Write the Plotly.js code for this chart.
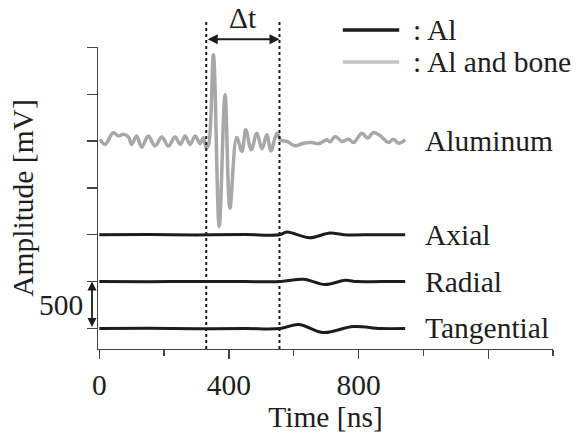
<!DOCTYPE html>
<html>
<head>
<meta charset="utf-8">
<script src="https://cdn.plot.ly/plotly-3.0.1.min.js"></script>
<style>html,body{margin:0;padding:0;background:#fff;}#chart{width:578px;height:433px;}</style>
</head>
<body>
<div id="chart"></div>
<script>
// ---- data (time in ns, amplitude in mV relative to each trace's own baseline) ----
const grayT = [2,18,43,59,74,90,100,115,131,151,172,193,213,234,250,265,280,296,311,321,330,
  337,352,370,388,403,424,440,452,469,486,502,517,530,548,560,
  579,604,630,656,676,702,712,728,749,769,785,810,828,846,867,892,908,923,944];
const grayV = [18,-36,89,53,71,43,-36,53,-64,53,-53,43,-53,43,-36,53,-36,53,-28,36,-71,
  -41,921,-913,493,-717,38,-112,120,-94,84,-83,66,-105,84,10,
  -5,-51,-23,-16,-30,13,-9,48,-5,20,-16,84,31,91,56,-16,20,-23,13];

const axialT = [0,150,300,450,556,579,649,712,754,850,944];
const axialV = [0,2,-2,2,0,28,-32,18,0,0,0];

const radialT = [0,150,300,450,560,630,697,759,795,870,944];
const radialV = [0,-2,2,0,0,25,-32,14,0,0,0];

const tangT = [0,150,300,450,558,615,692,784,867,944];
const tangV = [0,2,-2,0,0,43,-43,21,0,0];

const rowLabels = ["Aluminum","Axial","Radial","Tangential"];
const rowOffsets = [2000,1000,500,0];
const legendLabels = [": Al", ": Al and bone"];
const dtMarks = [330, 556];      // dotted lines (ns)
const scaleBar = 500;            // mV
const xTickVals = [0,400,800,1200];
const xTickText = ["0","400","800",""];

// ---- styling ----
const FONT = "Liberation Serif, Times New Roman, serif";
const FS = 29.5;
const BLACK = "#1c1c1c", GRAY = "#a8a8a8", LGRAY = "#c4c4c4", TXT = "#1e1e1e";

function shifted(v, off){ return v.map(a => a + off); }

const traces = [
  {x: grayT, y: shifted(grayV, rowOffsets[0]), name: "Al and bone", mode: "lines",
   line: {color: GRAY, width: 3.5, shape: "spline", smoothing: 1}},
  {x: axialT, y: shifted(axialV, rowOffsets[1]), name: "Al (Axial)", mode: "lines",
   line: {color: BLACK, width: 3, shape: "spline", smoothing: 1}},
  {x: radialT, y: shifted(radialV, rowOffsets[2]), name: "Al (Radial)", mode: "lines",
   line: {color: BLACK, width: 3, shape: "spline", smoothing: 1}},
  {x: tangT, y: shifted(tangV, rowOffsets[3]), name: "Al (Tangential)", mode: "lines",
   line: {color: BLACK, width: 3, shape: "spline", smoothing: 1}}
];

const annotations = [];
rowLabels.forEach((lab, i) => {
  annotations.push({x: 1000, y: rowOffsets[i], xref: "x", yref: "y", text: lab,
    showarrow: false, xanchor: "left", yanchor: "middle",
    font: {family: FONT, size: FS, color: TXT}});
});
// legend texts
annotations.push({x: 0.688, y: 1.056, xref: "paper", yref: "paper", text: legendLabels[0],
  showarrow: false, xanchor: "left", yanchor: "middle", font: {family: FONT, size: FS, color: TXT}});
annotations.push({x: 0.688, y: 0.950, xref: "paper", yref: "paper", text: legendLabels[1],
  showarrow: false, xanchor: "left", yanchor: "middle", font: {family: FONT, size: FS, color: TXT}});
// Δt
annotations.push({x: (dtMarks[0]+dtMarks[1])/2, y: 1.095, xref: "x", yref: "paper", text: "Δt",
  showarrow: false, xanchor: "center", yanchor: "middle", font: {family: FONT, size: FS, color: TXT}});
annotations.push({x: dtMarks[1], y: 1.026, xref: "x", yref: "paper", ax: dtMarks[0], ay: 0,
  axref: "x", ayref: "pixel", text: "", showarrow: true, arrowhead: 2, arrowside: "end+start",
  arrowsize: 1, arrowwidth: 2, arrowcolor: BLACK, standoff: 0, startstandoff: 0});
// scale bar
annotations.push({x: -0.0132, y: scaleBar, xref: "paper", yref: "y", ax: 0, ay: 0,
  axref: "pixel", ayref: "y", text: "", showarrow: true, arrowhead: 2, arrowside: "end+start",
  arrowsize: 1, arrowwidth: 1.8, arrowcolor: BLACK, standoff: 0, startstandoff: 0});
annotations.push({x: -0.0286, y: scaleBar/2, xref: "paper", yref: "y", text: String(scaleBar),
  showarrow: false, xanchor: "right", yanchor: "middle", font: {family: FONT, size: FS, color: TXT}});

const shapes = [];
dtMarks.forEach(t => shapes.push({type: "line", xref: "x", yref: "paper", x0: t, x1: t, y0: 0, y1: 1.089,
  line: {color: BLACK, width: 2, dash: "dot"}}));
shapes.push({type: "line", xref: "paper", yref: "paper", x0: 0.538, x1: 0.662, y0: 1.056, y1: 1.056,
  line: {color: BLACK, width: 3.5}});
shapes.push({type: "line", xref: "paper", yref: "paper", x0: 0.538, x1: 0.662, y0: 0.950, y1: 0.950,
  line: {color: LGRAY, width: 3.5}});

const layout = {
  width: 578, height: 433,
  margin: {l: 98, r: 25, t: 47, b: 84},
  paper_bgcolor: "#fff", plot_bgcolor: "#fff",
  showlegend: false,
  font: {family: FONT, size: FS, color: TXT},
  xaxis: {
    range: [-4, 1400], showgrid: false, zeroline: false,
    showline: true, linecolor: "#444", linewidth: 1.3,
    tickmode: "array", tickvals: xTickVals, ticktext: xTickText,
    ticks: "outside", ticklen: 9, tickwidth: 1.3, tickcolor: "#444",
    minor: {tickmode: "linear", tick0: 0, dtick: 200, ticks: "outside", ticklen: 6, tickwidth: 1.3, tickcolor: "#444"},
    tickfont: {family: FONT, size: FS, color: TXT},
    title: {text: "Time [ns]", font: {family: FONT, size: FS, color: TXT}, standoff: 23}
  },
  yaxis: {
    range: [-219, 3003], showgrid: false, zeroline: false,
    showline: true, linecolor: "#444", linewidth: 1.3,
    tickmode: "linear", tick0: 0, dtick: 500,
    ticks: "outside", ticklen: 10, tickwidth: 1.3, tickcolor: "#444",
    showticklabels: false,
    title: {text: "Amplitude [mV]", font: {family: FONT, size: FS, color: TXT}, standoff: 44}
  },
  annotations: annotations,
  shapes: shapes
};

Plotly.newPlot("chart", traces, layout, {staticPlot: true, displayModeBar: false});
</script>
</body>
</html>
